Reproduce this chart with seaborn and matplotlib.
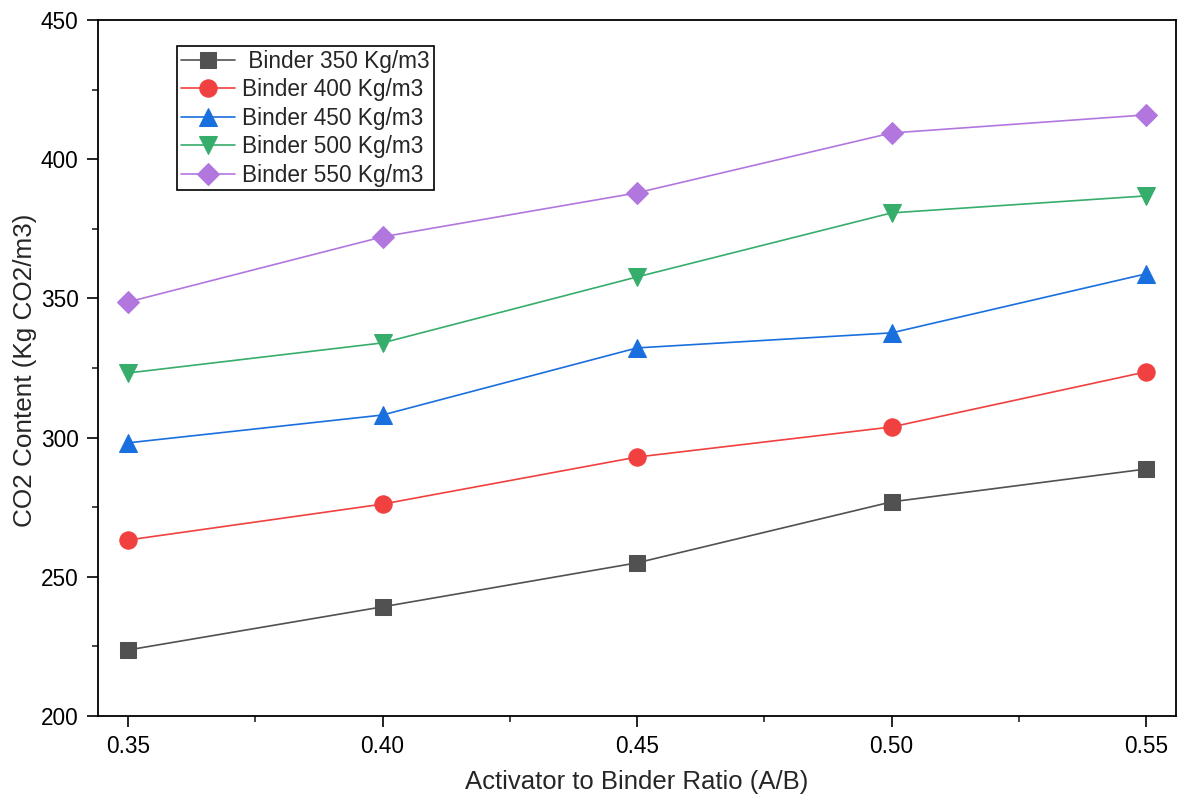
import matplotlib
matplotlib.use("Agg")
import matplotlib.pyplot as plt
from matplotlib.ticker import MultipleLocator
import pandas as pd
import seaborn as sns

# Activator-to-binder ratios on the x axis
ratios = [0.35, 0.40, 0.45, 0.50, 0.55]

# CO2 content (kg CO2 per m3) for each binder content
binder_labels = [" Binder 350 Kg/m3", "Binder 400 Kg/m3", "Binder 450 Kg/m3",
                 "Binder 500 Kg/m3", "Binder 550 Kg/m3"]
co2_350 = [223.7, 239.2, 255.0, 276.9, 288.7]
co2_400 = [263.2, 276.1, 293.0, 303.8, 323.6]
co2_450 = [298.1, 308.1, 332.2, 337.6, 358.8]
co2_500 = [323.2, 334.0, 357.7, 380.7, 386.8]
co2_550 = [348.7, 372.1, 387.9, 409.4, 415.9]
series = [co2_350, co2_400, co2_450, co2_500, co2_550]

colors = ["#515151", "#F14040", "#1A6FDF", "#37AD6B", "#B177DE"]
markers = ["s", "o", "^", "v", "D"]
marker_sizes = [11.5, 12.5, 13, 13, 11.5]

rows = []
for label, vals in zip(binder_labels, series):
    for r, v in zip(ratios, vals):
        rows.append({"ratio": r, "co2": v, "binder": label})
df = pd.DataFrame(rows)

sns.set_style("ticks")
plt.rcParams["font.family"] = ["Liberation Sans", "DejaVu Sans"]

fig = plt.figure(figsize=(11.77, 7.98), dpi=100)
ax = fig.add_axes([0.0833, 0.1028, 0.9159, 0.8722])

for label, col, mk, ms in zip(binder_labels, colors, markers, marker_sizes):
    sub = df[df["binder"] == label]
    sns.lineplot(data=sub, x="ratio", y="co2", ax=ax, color=col, marker=mk,
                 markersize=ms, markeredgecolor=col, linewidth=1.2,
                 label=label, legend=True)

ax.set_xlim(0.3441, 0.5559)
ax.set_ylim(200, 450)
ax.xaxis.set_major_locator(MultipleLocator(0.05))
ax.xaxis.set_minor_locator(MultipleLocator(0.025))
ax.yaxis.set_major_locator(MultipleLocator(50))
ax.yaxis.set_minor_locator(MultipleLocator(25))
ax.xaxis.set_major_formatter(matplotlib.ticker.FormatStrFormatter("%.2f"))

for side in ["top", "right", "left", "bottom"]:
    ax.spines[side].set_visible(True)
    ax.spines[side].set_color("black")
    ax.spines[side].set_linewidth(1.3)

ax.tick_params(which="major", direction="out", length=8, width=1.2,
               labelsize=16.3, colors="black", pad=6)
ax.tick_params(which="minor", direction="out", length=4, width=1.2)
ax.tick_params(top=False, right=False)

ax.set_xlabel("Activator to Binder Ratio (A/B)", fontsize=18.5, labelpad=8)
ax.set_ylabel("CO2 Content (Kg CO2/m3)", fontsize=18.8)
ax.yaxis.set_label_coords(-0.0565, 0.497)

leg = ax.legend(loc="upper left", bbox_to_anchor=(0.0733, 0.9626),
                borderaxespad=0, fontsize=16.3, frameon=True, fancybox=False,
                framealpha=1, edgecolor="black", handlelength=2.4,
                handletextpad=0.3, labelspacing=0.24, borderpad=0.17)
leg.get_frame().set_linewidth(1.2)

fig.savefig("out.png", dpi=100)
